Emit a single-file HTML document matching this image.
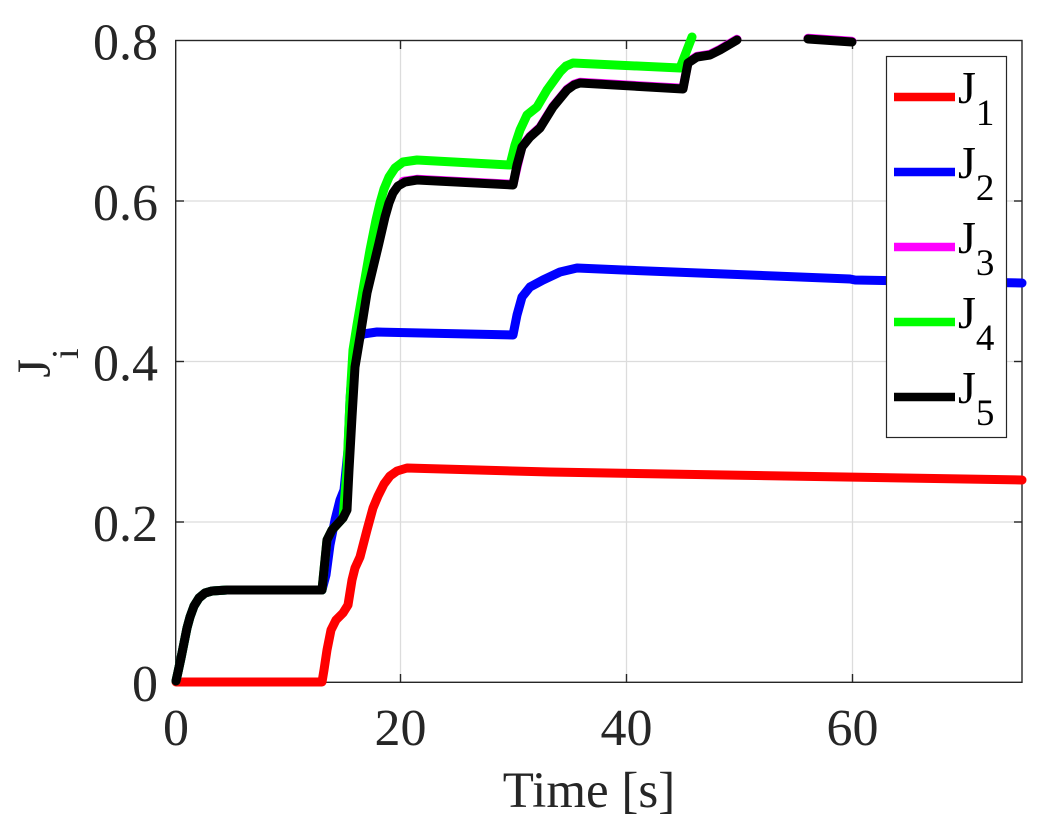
<!DOCTYPE html>
<html>
<head>
<meta charset="utf-8">
<style>
  html, body { margin:0; padding:0; background:#ffffff; }
  svg { display:block; }
</style>
</head>
<body>
<svg width="1050" height="828" viewBox="0 0 1050 828" xmlns="http://www.w3.org/2000/svg" font-family="'Liberation Serif', 'Times New Roman', serif">
  <rect x="0" y="0" width="1050" height="828" fill="#ffffff"/>

  <!-- grid -->
  <g stroke="#dcdcdc" stroke-width="1.3" fill="none">
    <line x1="400.5" y1="41" x2="400.5" y2="682"/>
    <line x1="626.5" y1="41" x2="626.5" y2="682"/>
    <line x1="852.5" y1="41" x2="852.5" y2="682"/>
    <line x1="176" y1="201" x2="1022" y2="201"/>
    <line x1="176" y1="361.5" x2="1022" y2="361.5"/>
    <line x1="176" y1="522" x2="1022" y2="522"/>
  </g>

  <!-- axes box -->
  <g stroke="#262626" stroke-width="1.4" fill="none">
    <rect x="175.7" y="40.5" width="846.3" height="641.8"/>
    <line x1="400.5" y1="682" x2="400.5" y2="674"/>
    <line x1="626.5" y1="682" x2="626.5" y2="674"/>
    <line x1="852.5" y1="682" x2="852.5" y2="674"/>
    <line x1="400.5" y1="41" x2="400.5" y2="49"/>
    <line x1="626.5" y1="41" x2="626.5" y2="49"/>
    <line x1="852.5" y1="41" x2="852.5" y2="49"/>
    <line x1="176" y1="201" x2="184" y2="201"/>
    <line x1="176" y1="361.5" x2="184" y2="361.5"/>
    <line x1="176" y1="522" x2="184" y2="522"/>
    <line x1="1022" y1="201" x2="1014" y2="201"/>
    <line x1="1022" y1="361.5" x2="1014" y2="361.5"/>
    <line x1="1022" y1="522" x2="1014" y2="522"/>
  </g>

  <!-- series -->
  <g fill="none" stroke-width="9" stroke-linejoin="round" stroke-linecap="round">
    <!-- J1 red -->
    <polyline stroke="#ff0000" points="176,682 322,682 324,670 327,650 331,630 336,620 343,613 348,605 352,580 355,568 360,557 367,530 373,508 378,496 384,484 390,476 397,471 407,468 550,472 1022,480"/>
    <!-- J2 blue -->
    <polyline stroke="#0000ff" points="176,681 178,672 181,658 184,643 187,628 190,617 194,606 199,598 205,593 212,591 227,590 322,590 326,575 330,545 335,520 340,500 344,490 348,450 350,400 353,360 357,340 363,334 377,332 513,335 517,315 522,297 530,287 543,280 560,272 577,268 623,270 750,275 850,279 855,280 1022,283"/>
    <!-- J3 magenta (under black) -->
    <polyline stroke="#ff00ff" transform="translate(0,-0.7)" points="513,185 522,147 530,137 540,128 553,107 567,90 574,85 580,83 683,89 688,63 697,57 710,55 720,50 737,40"/>
    <polyline stroke="#ff00ff" transform="translate(0,-0.7)" points="403,182 417,180 513,185"/>
    <polyline stroke="#ff00ff" transform="translate(0,-0.7)" points="808,39 852,42"/>
    <!-- J4 green -->
    <polyline stroke="#00ff00" points="176,681 178,672 181,658 184,643 187,628 190,617 194,606 199,598 205,593 212,591 227,590 322,590 327,540 332,530 343,518 347,470 350,400 353,350 357,325 363,290 370,250 376,220 380,203 384,189 389,177 395,168 403,162 417,160 510,165 515,145 520,130 527,115 537,107 547,90 560,72 566,66 573,63 680,68 692,37"/>
    <!-- J5 black -->
    <polyline stroke="#000000" points="176,681 178,672 181,658 184,643 187,628 190,617 194,606 199,598 205,593 212,591 227,590 322,590 327,540 332,530 343,518 347,510 349,470 352,417 355,367 360,337 367,293 373,268 379,243 385,217 389,203 393,193 398,186 405,182 417,180 513,185 517,165 522,147 530,137 540,128 553,107 567,90 574,85 580,83 683,89 688,63 697,57 710,55 720,50 737,40"/>
    <polyline stroke="#000000" points="808,39 852,42"/>
  </g>

  <!-- y tick labels -->
  <g font-size="52" text-anchor="end" fill="#262626" font-family="'Liberation Serif', 'Times New Roman', serif">
    <text x="158" y="59.5">0.8</text>
    <text x="158" y="220">0.6</text>
    <text x="158" y="380.5">0.4</text>
    <text x="158" y="541">0.2</text>
    <text x="158" y="701">0</text>
  </g>

  <!-- x tick labels -->
  <g font-size="52" text-anchor="middle" fill="#262626" font-family="'Liberation Serif', 'Times New Roman', serif">
    <text x="176" y="745">0</text>
    <text x="400.5" y="745">20</text>
    <text x="626.5" y="745">40</text>
    <text x="852.5" y="745">60</text>
  </g>

  <!-- axis labels -->
  <text x="589" y="807" font-size="51" text-anchor="middle" fill="#262626" font-family="'Liberation Serif', 'Times New Roman', serif">Time [s]</text>
  <text transform="translate(50,363) rotate(-90)" font-size="48" text-anchor="middle" fill="#262626" font-family="'Liberation Serif', 'Times New Roman', serif">J<tspan font-size="38" dy="28">i</tspan></text>

  <!-- legend -->
  <rect x="886.5" y="56.5" width="120" height="381" fill="#ffffff" stroke="#262626" stroke-width="1.2"/>
  <g stroke-width="8.5" fill="none">
    <line x1="894" y1="97" x2="955" y2="97" stroke="#ff0000"/>
    <line x1="894" y1="172" x2="955" y2="172" stroke="#0000ff"/>
    <line x1="894" y1="247" x2="955" y2="247" stroke="#ff00ff"/>
    <line x1="894" y1="322" x2="955" y2="322" stroke="#00ff00"/>
    <line x1="894" y1="397" x2="955" y2="397" stroke="#000000"/>
  </g>
  <g font-size="46" fill="#000000" font-family="'Liberation Serif', 'Times New Roman', serif">
    <text x="958" y="103">J<tspan font-size="37" dy="22">1</tspan></text>
    <text x="958" y="178">J<tspan font-size="37" dy="22">2</tspan></text>
    <text x="958" y="253">J<tspan font-size="37" dy="22">3</tspan></text>
    <text x="958" y="328">J<tspan font-size="37" dy="22">4</tspan></text>
    <text x="958" y="403">J<tspan font-size="37" dy="22">5</tspan></text>
  </g>
</svg>
</body>
</html>
